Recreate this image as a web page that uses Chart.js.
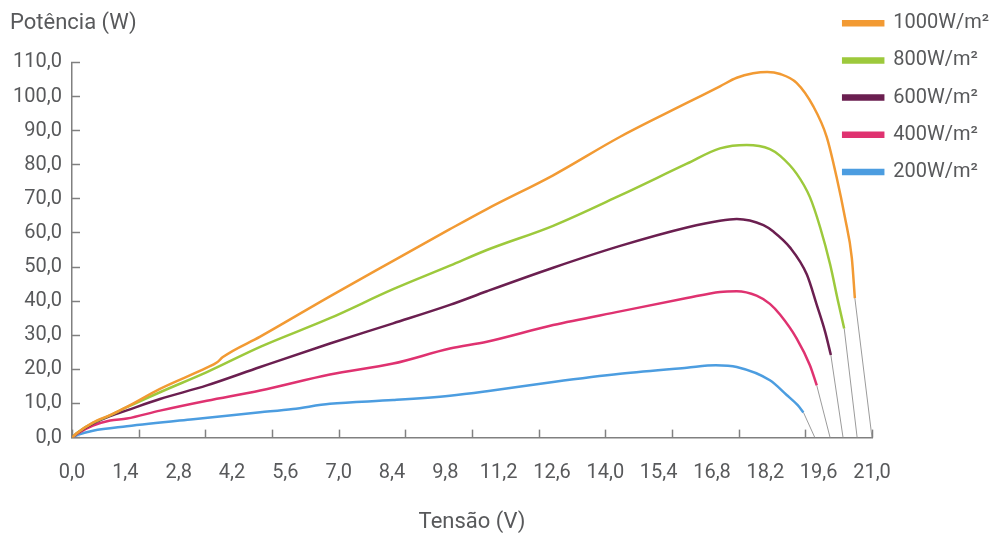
<!DOCTYPE html>
<html lang="pt">
<head>
<meta charset="utf-8">
<title>Potência x Tensão</title>
<script src="https://cdn.jsdelivr.net/npm/chart.js@4.4.1/dist/chart.umd.min.js"></script>
<style>
  html, body { margin: 0; padding: 0; background: #ffffff; }
  #wrap { width: 993px; height: 536px; }
</style>
</head>
<body>
<div id="wrap"><canvas id="powerChart" width="993" height="536"></canvas></div>
<script>
// curvas P x V por irradiância
const seriesLabels = ['1000W/m²', '800W/m²', '600W/m²', '400W/m²', '200W/m²'];
const seriesColors = ['#f29a33', '#9dc93c', '#6b1f50', '#df3270', '#4c9de0'];

const v1000 = [0, 0.15, 0.55, 1.0, 1.44, 2.31, 3.54, 3.8, 3.96, 4.94, 6.77, 8.43, 9.92, 10.89, 12.63, 14.39, 16.14, 17.01, 17.45, 17.88, 18.25, 18.59, 19.02, 19.46, 19.81, 20.07, 20.29, 20.47, 20.55];
const p1000 = [0, 1.5, 4.4, 6.6, 9.0, 14.3, 20.5, 22.0, 23.6, 29.6, 41.4, 51.8, 61.1, 67.0, 76.9, 88.2, 98.1, 103.0, 105.5, 106.8, 107.2, 106.6, 104.0, 97.1, 88.2, 76.4, 64.5, 52.7, 40.9];

const v800 = [0, 0.15, 0.55, 1.0, 1.44, 2.31, 3.54, 4.94, 6.77, 8.43, 9.92, 10.89, 12.63, 14.39, 16.14, 17.01, 17.71, 18.32, 18.59, 19.02, 19.37, 19.64, 19.90, 20.11, 20.27];
const p800 = [0, 1.5, 4.3, 6.5, 8.9, 13.3, 19.2, 26.6, 35.0, 43.5, 50.4, 55.0, 62.1, 71.0, 80.3, 84.8, 85.8, 84.6, 82.6, 77.4, 70.5, 61.6, 50.8, 39.9, 32.0];

const v600 = [0, 0.15, 0.55, 1.0, 1.44, 2.31, 3.54, 4.94, 6.77, 8.43, 9.92, 10.89, 12.63, 14.39, 16.14, 17.01, 17.45, 18.15, 18.41, 18.85, 19.29, 19.55, 19.77, 19.92];
const p600 = [0, 1.4, 4.1, 6.3, 8.0, 11.3, 15.3, 20.7, 27.6, 33.5, 38.9, 42.9, 49.8, 56.2, 61.6, 63.6, 64.1, 62.3, 60.4, 55.7, 47.8, 38.9, 31.0, 24.2];

const v400 = [0, 0.15, 0.55, 1.0, 1.44, 2.31, 3.54, 4.94, 6.77, 8.43, 9.92, 10.89, 12.63, 14.39, 16.14, 17.01, 17.45, 17.97, 18.32, 18.59, 19.02, 19.37, 19.55];
const p400 = [0, 1.2, 3.5, 5.0, 5.6, 7.9, 10.8, 13.8, 18.5, 21.7, 26.1, 28.1, 33.0, 37.0, 40.9, 42.7, 42.9, 41.6, 39.2, 36.0, 29.1, 21.2, 15.3];

const v200 = [0, 0.15, 0.55, 1.44, 3.18, 4.94, 5.8, 6.77, 8.43, 9.92, 10.89, 12.63, 14.39, 16.14, 16.9, 17.45, 18.32, 18.76, 19.05, 19.20];
const p200 = [0, 0.8, 2.0, 3.3, 5.4, 7.4, 8.4, 9.9, 11.0, 12.3, 13.6, 16.3, 18.7, 20.5, 21.2, 20.7, 16.8, 12.5, 9.5, 7.4];

// tensão de circuito aberto (onde as linhas cinza tocam o eixo)
const vocValues = [21.0, 20.61, 20.24, 19.9, 19.5];

const voltageTicks = [0, 1.4, 2.8, 4.2, 5.6, 7.0, 8.4, 9.8, 11.2, 12.6, 14.0, 15.4, 16.8, 18.2, 19.6, 21.0];
const voltageMarks = [0, 1.75, 3.5, 5.25, 7.0, 8.75, 10.5, 12.25, 14.0, 15.75, 17.5, 19.25, 21.0];
const powerTicks = [0, 10, 20, 30, 40, 50, 60, 70, 80, 90, 100, 110];

const voltages = [v1000, v800, v600, v400, v200];
const powers = [p1000, p800, p600, p400, p200];

const textColor = '#58595b';
const axisColor = '#808080';
const fmt = (v) => Number(v).toFixed(1).replace('.', ',');

Chart.defaults.font.family = 'Roboto';
Chart.defaults.color = textColor;

function toPoints(xs, ys) {
    return xs.map((x, i) => ({ x: x, y: ys[i] }));
}

const mainSets = seriesLabels.map((label, i) => ({
    label: label,
    data: toPoints(voltages[i], powers[i]),
    borderColor: seriesColors[i],
    backgroundColor: seriesColors[i],
    borderWidth: 2.5,
    pointRadius: 0,
    cubicInterpolationMode: 'monotone'
}));

const tailSets = seriesLabels.map((label, i) => {
    const xs = voltages[i];
    const ys = powers[i];
    const last = xs.length - 1;
    return {
        label: label + ' Voc',
        data: [{ x: xs[last], y: ys[last] }, { x: vocValues[i], y: 0 }],
        borderColor: '#9b9b9b',
        borderWidth: 1,
        pointRadius: 0,
        tension: 0
    };
});

// marcas do eixo X voltadas para dentro + posição da legenda
const axisDecor = {
    id: 'axisDecor',
    afterLayout(chart) {
        const lg = chart.legend;
        if (!lg) return;
        lg.left = 826;
        lg.right = 993;
        lg.top = -4;
        lg.bottom = 260;
    },
    beforeDatasetsDraw(chart) {
        const xs = chart.scales.x;
        const ctx = chart.ctx;
        const bottom = chart.chartArea.bottom;
        ctx.save();
        ctx.strokeStyle = axisColor;
        ctx.lineWidth = 1.5;
        voltageMarks.forEach((v) => {
            const px = Math.round(xs.getPixelForValue(v)) + 0.5;
            ctx.beginPath();
            ctx.moveTo(px, bottom);
            ctx.lineTo(px, bottom - 8);
            ctx.stroke();
        });
        ctx.restore();
    }
};

const canvas = document.getElementById('powerChart');
new Chart(canvas.getContext('2d'), {
    type: 'line',
    data: { datasets: mainSets.concat(tailSets) },
    plugins: [axisDecor],
    options: {
        responsive: false,
        animation: false,
        layout: { padding: { left: 10, right: 121, top: 0, bottom: 0 } },
        plugins: {
            legend: {
                position: 'chartArea',
                align: 'start',
                labels: {
                    filter: (item) => item.datasetIndex < seriesLabels.length,
                    boxWidth: 40,
                    boxHeight: 4,
                    padding: 17.2,
                    color: textColor,
                    font: { size: 20 }
                }
            },
            title: {
                display: true,
                text: 'Potência (W)',
                align: 'start',
                color: textColor,
                font: { size: 22, weight: 'normal' },
                padding: { top: 10, bottom: 26 }
            },
            tooltip: { enabled: false }
        },
        scales: {
            x: {
                type: 'linear',
                min: 0,
                max: 21,
                afterBuildTicks: (scale) => {
                    scale.ticks = voltageTicks.map((v) => ({ value: v }));
                },
                ticks: {
                    autoSkip: false,
                    maxRotation: 0,
                    padding: 23,
                    color: textColor,
                    font: { size: 20 },
                    callback: (v) => fmt(v)
                },
                grid: { drawOnChartArea: false, drawTicks: false },
                border: { display: true, color: axisColor, width: 1.5 },
                title: {
                    display: true,
                    text: 'Tensão (V)',
                    color: textColor,
                    font: { size: 22 },
                    padding: { top: 2, bottom: 0 }
                }
            },
            y: {
                type: 'linear',
                min: 0,
                max: 110,
                afterBuildTicks: (scale) => {
                    scale.ticks = powerTicks.map((v) => ({ value: v }));
                },
                afterFit: (scale) => {
                    scale.width = 62;
                },
                ticks: {
                    padding: 18,
                    color: textColor,
                    font: { size: 20 },
                    callback: (v) => fmt(v)
                },
                grid: {
                    drawOnChartArea: false,
                    drawTicks: true,
                    tickLength: -8,
                    tickColor: axisColor,
                    tickWidth: 1.5
                },
                border: { display: true, color: axisColor, width: 1.5 }
            }
        }
    }
});
</script>
</body>
</html>
